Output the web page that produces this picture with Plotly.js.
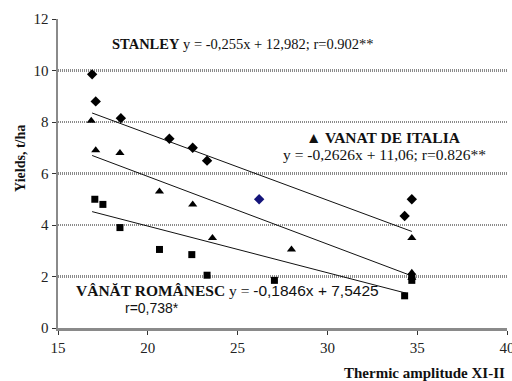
<!DOCTYPE html>
<html><head><meta charset="utf-8">
<script src="https://cdn.plot.ly/plotly-3.0.1.min.js"></script>
<style>html,body{margin:0;padding:0;background:#fff}#chart{width:512px;height:381px}</style>
</head><body><div id="chart"></div>
<script>
// Data
var stanleyX = [16.9, 17.1, 18.5, 21.2, 22.5, 23.3, 34.3, 34.7];
var stanleyY = [9.85, 8.8, 8.15, 7.35, 7.0, 6.5, 4.35, 5.0];
var highlightX = [26.2];
var highlightY = [5.0];
var italiaX = [16.85, 17.1, 18.45, 20.65, 22.5, 23.6, 28.0, 34.7, 34.7, 34.7];
var italiaY = [8.05, 6.9, 6.8, 5.3, 4.8, 3.5, 3.05, 3.5, 2.15, 1.95];
var romanescX = [17.05, 17.5, 18.45, 20.65, 22.45, 23.3, 27.05, 34.3, 34.7, 34.7];
var romanescY = [5.0, 4.8, 3.9, 3.05, 2.85, 2.05, 1.85, 1.25, 1.85, 2.0];
var stanleyTrendX = [16.9, 34.7];
var stanleyTrendY = [8.35, 3.75];
var italiaTrendX = [16.9, 34.6];
var italiaTrendY = [6.7, 2.05];
var romanescTrendX = [16.9, 34.4];
var romanescTrendY = [4.52, 1.35];
var xTicks = [15, 20, 25, 30, 35, 40];
var yTicks = [0, 2, 4, 6, 8, 10, 12];

var serif = 'Liberation Serif, Times New Roman, serif';
var sans = 'Liberation Sans, Arial, sans-serif';

var traces = [
  {x: stanleyTrendX, y: stanleyTrendY, mode: 'lines', line: {color: '#111', width: 1}},
  {x: italiaTrendX, y: italiaTrendY, mode: 'lines', line: {color: '#111', width: 1}},
  {x: romanescTrendX, y: romanescTrendY, mode: 'lines', line: {color: '#111', width: 1}},
  {x: stanleyX, y: stanleyY, mode: 'markers', marker: {symbol: 'diamond', size: 8, color: '#000'}},
  {x: highlightX, y: highlightY, mode: 'markers', marker: {symbol: 'diamond', size: 8, color: '#14147a'}},
  {x: italiaX, y: italiaY, mode: 'markers', marker: {symbol: 'triangle-up', size: 8, color: '#000'}},
  {x: romanescX, y: romanescY, mode: 'markers', marker: {symbol: 'square', size: 7, color: '#000'}}
];

var layout = {
  width: 512, height: 381,
  margin: {l: 58, r: 5, t: 19, b: 53},
  paper_bgcolor: '#fff', plot_bgcolor: '#fff',
  showlegend: false,
  font: {family: serif, size: 15, color: '#222'},
  xaxis: {
    range: [15, 40], tickvals: xTicks, ticktext: xTicks.map(String),
    showgrid: false, zeroline: false,
    showline: true, linecolor: '#8a8a8a', linewidth: 2.5,
    ticks: 'outside', ticklen: 4, tickcolor: '#333', tickwidth: 1,
    ticklabeloverflow: 'allow',
    tickfont: {family: serif, size: 15, color: '#222'}
  },
  yaxis: {
    range: [0, 12], tickvals: yTicks, ticktext: yTicks.map(String),
    showgrid: true, gridcolor: '#8a8a8a', gridwidth: 2.5, griddash: '1px,1px',
    zeroline: false,
    showline: true, linecolor: '#8a8a8a', linewidth: 2.5,
    ticks: 'outside', ticklen: 4, tickcolor: '#333', tickwidth: 1,
    tickfont: {family: serif, size: 15, color: '#222'}
  },
  annotations: [
    {xref: 'paper', yref: 'paper', x: 1.0, y: -0.145, xanchor: 'right', yanchor: 'middle', showarrow: false,
     text: '<b>Thermic amplitude XI-II</b>', font: {family: serif, size: 15, color: '#111'}},
    {xref: 'paper', yref: 'paper', x: -0.085, y: 0.55, xanchor: 'center', yanchor: 'middle', showarrow: false,
     textangle: -90, text: '<b>Yields, t/ha</b>', font: {family: serif, size: 14, color: '#111'}},
    {xref: 'paper', yref: 'paper', x: 0.116, y: 0.92, xanchor: 'left', yanchor: 'middle', showarrow: false,
     text: '<b>STANLEY</b> y = -0,255x + 12,982; r=0.902**', font: {family: serif, size: 14.5, color: '#111'}},
    {xref: 'paper', yref: 'paper', x: 0.726, y: 0.615, xanchor: 'center', yanchor: 'middle', showarrow: false,
     text: '<b>▲ VANAT DE ITALIA</b>', font: {family: serif, size: 15.5, color: '#111'}},
    {xref: 'paper', yref: 'paper', x: 0.728, y: 0.56, xanchor: 'center', yanchor: 'middle', showarrow: false,
     text: 'y = -0,2626x + 11,06; r=0.826**', font: {family: serif, size: 15.5, color: '#111'}},
    {xref: 'paper', yref: 'paper', x: 0.036, y: 0.12, xanchor: 'left', yanchor: 'middle', showarrow: false,
     text: '<b>VÂNĂT ROMÂNESC</b> y = <span style="font-family:Liberation Sans">-0,1846x + 7,5425</span>', font: {family: serif, size: 15.5, color: '#111'}},
    {xref: 'paper', yref: 'paper', x: 0.21, y: 0.065, xanchor: 'center', yanchor: 'middle', showarrow: false,
     text: 'r=0,738*', font: {family: sans, size: 14, color: '#111'}}
  ]
};

Plotly.newPlot('chart', traces, layout, {displayModeBar: false, staticPlot: true});
</script></body></html>
